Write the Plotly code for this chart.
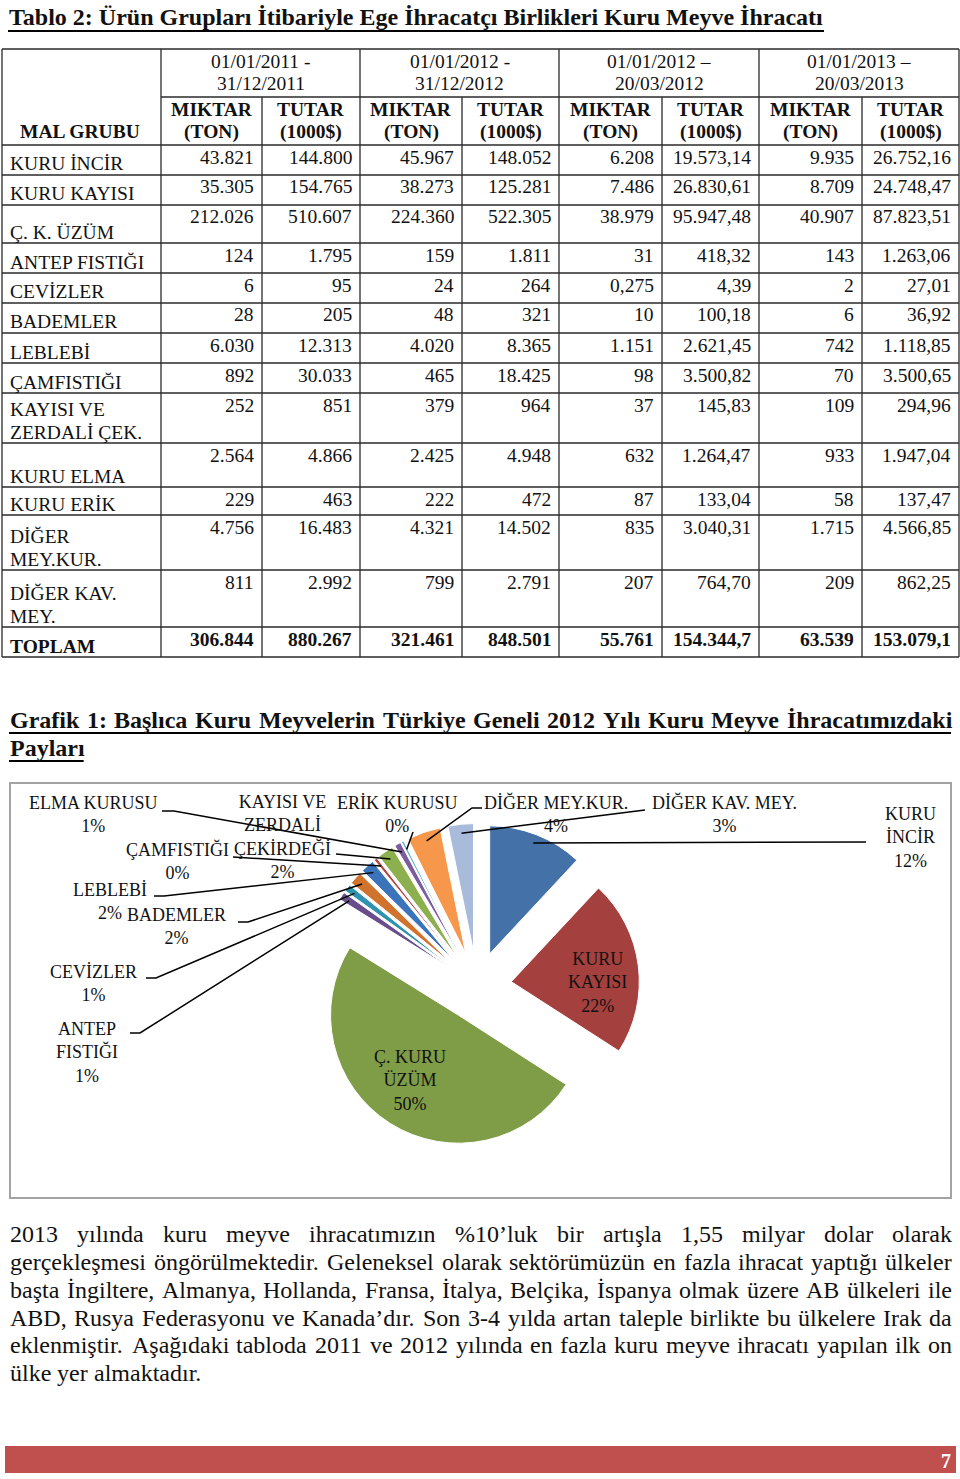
import math
import plotly.graph_objects as go

W, H = 960, 1479
SERIF = "Liberation Serif, Times New Roman, serif"

# ------------------------------------------------------------------ data: Tablo 2
table_title = "Tablo 2: Ürün Grupları İtibariyle Ege İhracatçı Birlikleri Kuru Meyve İhracatı"
periods = [["01/01/2011 -", "31/12/2011"], ["01/01/2012 -", "31/12/2012"],
           ["01/01/2012 –", "20/03/2012"], ["01/01/2013 –", "20/03/2013"]]
measures = [["MIKTAR", "(TON)"], ["TUTAR", "(1000$)"]]
group_header = "MAL GRUBU"
groups = ["KURU İNCİR", "KURU KAYISI", "Ç. K. ÜZÜM", "ANTEP FISTIĞI", "CEVİZLER", "BADEMLER",
          "LEBLEBİ", "ÇAMFISTIĞI", "KAYISI VE<br>ZERDALİ ÇEK.", "KURU ELMA", "KURU ERİK",
          "DİĞER<br>MEY.KUR.", "DİĞER KAV.<br>MEY."]
total_label = "TOPLAM"
miktar_2011 = [43821, 35305, 212026, 124, 6, 28, 6030, 892, 252, 2564, 229, 4756, 811]
tutar_2011 = [144800, 154765, 510607, 1795, 95, 205, 12313, 30033, 851, 4866, 463, 16483, 2992]
miktar_2012 = [45967, 38273, 224360, 159, 24, 48, 4020, 465, 379, 2425, 222, 4321, 799]
tutar_2012 = [148052, 125281, 522305, 1811, 264, 321, 8365, 18425, 964, 4948, 472, 14502, 2791]
miktar_2012q1 = [6208, 7486, 38979, 31, 0.275, 10, 1151, 98, 37, 632, 87, 835, 207]
tutar_2012q1 = [19573.14, 26830.61, 95947.48, 418.32, 4.39, 100.18, 2621.45, 3500.82, 145.83,
                1264.47, 133.04, 3040.31, 764.70]
miktar_2013q1 = [9935, 8709, 40907, 143, 2, 6, 742, 70, 109, 933, 58, 1715, 209]
tutar_2013q1 = [26752.16, 24748.47, 87823.51, 1263.06, 27.01, 36.92, 1118.85, 3500.65, 294.96,
                1947.04, 137.47, 4566.85, 862.25]
toplam = [306844, 880267, 321461, 848501, 55761, 154344.74, 63539, 153079.15]

# ------------------------------------------------------------------ data: Grafik 1 (pie, % shares)
chart_heading = ["Grafik 1: Başlıca Kuru Meyvelerin Türkiye Geneli 2012 Yılı Kuru Meyve İhracatımızdaki",
                 "Payları"]
pie_labels = ["KURU İNCİR", "KURU KAYISI", "Ç. KURU ÜZÜM", "ANTEP FISTIĞI", "CEVİZLER", "BADEMLER",
              "LEBLEBİ", "ÇAMFISTIĞI", "KAYISI VE ZERDALİ ÇEKİRDEĞİ", "ELMA KURUSU", "ERİK KURUSU",
              "DİĞER MEY.KUR.", "DİĞER KAV. MEY."]
pie_values = [11.9, 22.1, 49.6, 1.0, 0.9, 1.6, 1.7, 0.4, 2.0, 0.8, 0.3, 4.2, 3.2]

paragraph = [
    "2013 yılında kuru meyve ihracatımızın %10’luk bir artışla 1,55 milyar dolar olarak",
    "gerçekleşmesi öngörülmektedir. Geleneksel olarak sektörümüzün en fazla ihracat yaptığı ülkeler",
    "başta İngiltere, Almanya, Hollanda, Fransa, İtalya, Belçika, İspanya olmak üzere AB ülkeleri ile",
    "ABD, Rusya Federasyonu ve Kanada’dır. Son 3-4 yılda artan taleple birlikte bu ülkelere Irak da",
    "eklenmiştir.  Aşağıdaki tabloda 2011 ve 2012 yılında en fazla kuru meyve ihracatı yapılan ilk on",
    "ülke yer almaktadır.",
]
page_number = "7"

# ------------------------------------------------------------------ styles / layout
pie_colors = ["#4371a8", "#a4403e", "#7f9c47", "#6a4e8c", "#2f92ae", "#cf732d", "#3b74bb",
              "#b54541", "#8db04e", "#7b5c9f", "#62b6cd", "#f6974b", "#a8bbdb"]
TXT = "#111111"
LINE = "#2a2a2a"

col_x = [2, 161, 262, 360, 462, 559, 662, 759, 862, 959]
row_y = [145, 175, 205, 243, 273, 303, 333, 363, 393, 443, 487, 515, 570, 627, 657]
TAB_TOP, TAB_MID = 49, 97
TFS = 19.5

PIE_CX, PIE_CY, PIE_R, PULL = 477, 986, 128, 0.27
PFS = 18
# label layout: wrapped name, block centre (px), leader attach point, horizontal stub
label_layout = {
    "KURU İNCİR": ("KURU<br>İNCİR", 910, 837, (866, 842), 0),
    "KURU KAYISI": ("KURU<br>KAYISI", 597, 982, None, 0),
    "Ç. KURU ÜZÜM": ("Ç. KURU<br>ÜZÜM", 410, 1080, None, 0),
    "ANTEP FISTIĞI": ("ANTEP<br>FISTIĞI", 87, 1052, (130, 1033), 10),
    "CEVİZLER": ("CEVİZLER", 93, 983, (146, 978), 10),
    "BADEMLER": ("BADEMLER", 176, 926, (238, 922), 10),
    "LEBLEBİ": ("LEBLEBİ", 110, 901, (154, 896), 10),
    "ÇAMFISTIĞI": ("ÇAMFISTIĞI", 177, 861, (233, 857), 0),
    "KAYISI VE ZERDALİ ÇEKİRDEĞİ": ("KAYISI VE<br>ZERDALİ<br>ÇEKİRDEĞİ", 282, 837, (336, 854), 0),
    "ELMA KURUSU": ("ELMA KURUSU", 93, 814, (162, 811), 12),
    "ERİK KURUSU": ("ERİK KURUSU", 397, 814, (413, 832), 0),
    "DİĞER MEY.KUR.": ("DİĞER MEY.KUR.", 556, 814, (482, 808), -10),
    "DİĞER KAV. MEY.": ("DİĞER KAV. MEY.", 724, 814, (645, 810), 0),
}

# ------------------------------------------------------------------ helpers
def X(px):
    return px / W


def Y(py):
    return 1 - py / H


annotations, shapes = [], []


def text(x, y, s, size, bold=False, xanchor="left", yanchor="middle", color=TXT):
    annotations.append(dict(x=X(x), y=Y(y), xref="paper", yref="paper", showarrow=False,
                            text=f"<b>{s}</b>" if bold else s, xanchor=xanchor, yanchor=yanchor,
                            borderpad=0, font=dict(family=SERIF, size=size, color=color)))


def hline(x0, x1, y, color=LINE, w=1.3):
    shapes.append(dict(type="line", xref="paper", yref="paper", x0=X(x0), x1=X(x1), y0=Y(y), y1=Y(y),
                       line=dict(color=color, width=w)))


def vline(x, y0, y1, color=LINE, w=1.3):
    shapes.append(dict(type="line", xref="paper", yref="paper", x0=X(x), x1=X(x), y0=Y(y0), y1=Y(y1),
                       line=dict(color=color, width=w)))


# Times / Liberation Serif advance widths (1/1000 em)
_UP = "ABCDEFGHIJKLMNOPQRSTUVWXYZ"
_LO = "abcdefghijklmnopqrstuvwxyz"
REG = dict(zip(_UP, [722, 667, 667, 722, 611, 556, 722, 722, 333, 389, 722, 611, 889, 722, 722, 556,
                     722, 667, 556, 611, 722, 722, 944, 722, 722, 611]))
REG.update(zip(_LO, [444, 500, 444, 500, 444, 333, 500, 500, 278, 278, 500, 278, 778, 500, 500, 500,
                     500, 333, 389, 278, 500, 500, 722, 500, 500, 444]))
REG.update({" ": 250, ".": 250, ",": 250, ":": 278, "%": 833, "’": 333, "-": 333, "–": 500,
            "(": 333, ")": 333, "$": 500, "/": 278})
BOLD = dict(zip(_UP, [722, 667, 722, 722, 667, 611, 778, 778, 389, 500, 778, 667, 944, 722, 778, 611,
                      778, 722, 556, 667, 722, 722, 1000, 722, 722, 667]))
BOLD.update(zip(_LO, [500, 556, 444, 556, 444, 333, 500, 556, 278, 333, 556, 278, 833, 556, 500, 556,
                      556, 444, 389, 333, 556, 500, 722, 500, 500, 444]))
BOLD.update({" ": 250, ".": 250, ",": 250, ":": 333, "%": 1000, "’": 333, "-": 333, "–": 500,
             "(": 333, ")": 333, "$": 500, "/": 278})
TR = {"ç": "c", "ğ": "g", "ı": "i", "ö": "o", "ş": "s", "ü": "u",
      "Ç": "C", "Ğ": "G", "İ": "I", "Ö": "O", "Ş": "S", "Ü": "U"}


def tw(s, size, bold=False):
    m = BOLD if bold else REG
    return sum(m.get(TR.get(c, c), 500) for c in s) / 1000 * size


def justified(line, y, x0, x1, size, bold=False, justify=True):
    words = line.split()
    widths = [tw(w, size, bold) for w in words]
    if justify and len(words) > 1:
        gap = (x1 - x0 - sum(widths)) / (len(words) - 1)
    else:
        gap = tw(" ", size, bold)
    x = x0
    for w, wd in zip(words, widths):
        text(x, y, w, size, bold=bold)
        x += wd + gap


def tr_num(v, dec):
    if isinstance(v, float) and dec == 0 and v != int(v):
        dec = 3
    s = f"{v:,.{dec}f}"
    return s.replace(",", "#").replace(".", ",").replace("#", ".")


# ------------------------------------------------------------------ title
text(8, 17, table_title, 24, bold=True)
hline(8, 8 + tw(table_title, 24, True), 31, color="#000000", w=2)

# ------------------------------------------------------------------ table grid
hline(col_x[0], col_x[-1], TAB_TOP)
hline(col_x[1], col_x[-1], TAB_MID)
for yy in row_y:
    hline(col_x[0], col_x[-1], yy)
for i, xx in enumerate(col_x):
    if i in (0, 1, 3, 5, 7, 9):
        vline(xx, TAB_TOP, row_y[-1])
    else:
        vline(xx, TAB_MID, row_y[-1])

# headers
for k, (l1, l2) in enumerate(periods):
    cx = (col_x[1 + 2 * k] + col_x[3 + 2 * k]) / 2
    text(cx, 61, l1, TFS, xanchor="center")
    text(cx, 84, l2, TFS, xanchor="center")
for j in range(8):
    cx = (col_x[1 + j] + col_x[2 + j]) / 2
    m1, m2 = measures[j % 2]
    text(cx, 109, m1, TFS, bold=True, xanchor="center")
    text(cx, 132, m2, TFS, bold=True, xanchor="center")
text((col_x[0] + col_x[1]) / 2 - 2, 132, group_header, TFS, bold=True, xanchor="center")

# body
columns = [miktar_2011, tutar_2011, miktar_2012, tutar_2012, miktar_2012q1, tutar_2012q1,
           miktar_2013q1, tutar_2013q1]
decimals = [0, 0, 0, 0, 0, 2, 0, 2]
rows = [(g, [c[i] for c in columns], False) for i, g in enumerate(groups)]
rows.append((total_label, toplam, True))
for i, (label, vals, bold) in enumerate(rows):
    top, bottom = row_y[i], row_y[i + 1]
    for li, ln in enumerate(reversed(label.split("<br>"))):
        text(9, bottom - 11 - 23 * li, ln, TFS, bold=bold)
    for j, v in enumerate(vals):
        s = tr_num(v, decimals[j])[:9]  # cell wraps; overflow is clipped in the source
        text(col_x[j + 2] - 7, top + 12, s, TFS, bold=bold, xanchor="right")

# ------------------------------------------------------------------ chart heading
justified(chart_heading[0], 720, 9, 951, 24, bold=True, justify=True)
justified(chart_heading[1], 748, 9, 951, 24, bold=True, justify=False)
hline(9, 951, 733, color="#000000", w=1.8)
hline(9, 9 + tw(chart_heading[1], 24, True), 761, color="#000000", w=1.8)

# chart frame
shapes.append(dict(type="rect", xref="paper", yref="paper", x0=X(10), x1=X(951), y0=Y(1198), y1=Y(783),
                   line=dict(color="#a3a3a3", width=2), fillcolor="rgba(0,0,0,0)", layer="below"))

# ------------------------------------------------------------------ pie
half = PIE_R * (1 + PULL)
total = sum(pie_values)
fig = go.Figure(go.Pie(
    labels=pie_labels, values=pie_values, sort=False, direction="clockwise", rotation=0,
    pull=[PULL] * len(pie_values), textinfo="none", hoverinfo="label+percent",
    marker=dict(colors=pie_colors, line=dict(color="white", width=1)),
    domain=dict(x=[X(PIE_CX - half), X(PIE_CX + half)], y=[Y(PIE_CY + half), Y(PIE_CY - half)]),
    showlegend=False,
))

cum = 0.0
for lab, v in zip(pie_labels, pie_values):
    mid = (cum + v / 2) / total * 2 * math.pi
    cum += v
    pct = f"{round(v / total * 100)}%"
    wrapped, lx, ly, attach, stub = label_layout[lab]
    text(lx, ly, wrapped + "<br>" + pct, PFS, xanchor="center")
    if attach is not None:
        rr = PULL * PIE_R + 0.93 * PIE_R
        tx = PIE_CX + rr * math.sin(mid)
        ty = PIE_CY - rr * math.cos(mid)
        ax, ay = attach
        path = f"M{X(ax)},{Y(ay)} L{X(ax + stub)},{Y(ay)} L{X(tx)},{Y(ty)}"
        shapes.append(dict(type="path", xref="paper", yref="paper", path=path,
                           line=dict(color="#000000", width=1.5)))

# ------------------------------------------------------------------ paragraph
para_y = [1234, 1262, 1290, 1318, 1345, 1373]
for i, (ln, yy) in enumerate(zip(paragraph, para_y)):
    justified(ln, yy, 9, 951, 24, justify=(i < len(paragraph) - 1))

# ------------------------------------------------------------------ footer
shapes.append(dict(type="rect", xref="paper", yref="paper", x0=X(5), x1=X(956), y0=Y(1473), y1=Y(1446),
                   line=dict(width=0), fillcolor="#c0504d", layer="below"))
text(946, 1461, page_number, 20, bold=True, xanchor="center", color="#ffffff")

fig.update_layout(width=W, height=H, margin=dict(l=0, r=0, t=0, b=0),
                  paper_bgcolor="white", plot_bgcolor="white",
                  annotations=annotations, shapes=shapes)
fig.write_html("out.html", config={"displayModeBar": False},
               post_script="document.body.style.margin='0px';")
